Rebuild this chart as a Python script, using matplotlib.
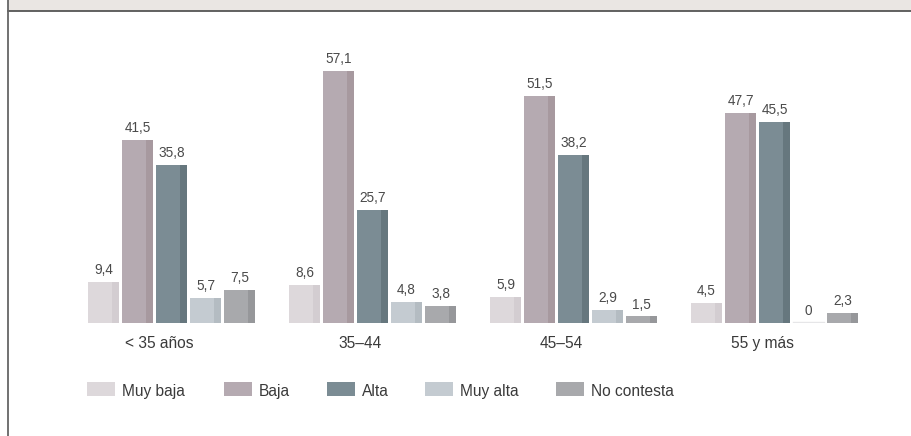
import matplotlib
matplotlib.use("Agg")
import matplotlib.pyplot as plt
from matplotlib.patches import Rectangle
from matplotlib.lines import Line2D

plt.rcParams['font.family'] = ['Liberation Sans', 'DejaVu Sans']

# data
groups = ["< 35 años", "35\u201344", "45\u201354", "55 y más"]
series = ["Muy baja", "Baja", "Alta", "Muy alta", "No contesta"]
muy_baja = [9.4, 8.6, 5.9, 4.5]
baja = [41.5, 57.1, 51.5, 47.7]
alta = [35.8, 25.7, 38.2, 45.5]
muy_alta = [5.7, 4.8, 2.9, 0]
no_contesta = [7.5, 3.8, 1.5, 2.3]
values = [muy_baja, baja, alta, muy_alta, no_contesta]

main_colors = ["#DDD8DB", "#B5AAB1", "#7B8C94", "#C4CBD1", "#A8A9AC"]
strip_colors = ["#D3CDD1", "#A7999F", "#66777E", "#B4BCC2", "#96979A"]

W, H = 911, 436
fig = plt.figure(figsize=(W / 100, H / 100), dpi=100)

def fx(px):
    return px / W

def fy(py):
    return 1 - py / H

# frame: grey band on top, dark rule, left border
fig.add_artist(Rectangle((fx(8), fy(11)), 1 - fx(8), fy(0) - fy(11),
                         transform=fig.transFigure, color="#EAE6E3", lw=0))
fig.add_artist(Line2D([fx(8), 1], [fy(11.5), fy(11.5)], transform=fig.transFigure,
                      color="#555555", lw=1.3))
fig.add_artist(Line2D([fx(8), fx(8)], [0, 1], transform=fig.transFigure,
                      color="#666666", lw=1.3))

# axes geometry (px)
ppu_x = 201.0          # pixels per group
bar_w = 31 / ppu_x
pitch = 34 / ppu_x
base_px = 323
ppu_y = 4.41
ymax = 60
ax_left, ax_right = 20, 900
first_left = -2 * pitch - bar_w / 2
xmin = first_left - (88 - ax_left) / ppu_x
xmax = xmin + (ax_right - ax_left) / ppu_x

ax = fig.add_axes([fx(ax_left), fy(base_px), fx(ax_right - ax_left), ymax * ppu_y / H])
ax.set_xlim(xmin, xmax)
ax.set_ylim(0, ymax)

strip = 0.23 * bar_w
for i, vals in enumerate(values):
    xs = [g + (i - 2) * pitch for g in range(len(groups))]
    ax.bar(xs, vals, width=bar_w, color=main_colors[i], lw=0)
    ax.bar([x + bar_w / 2 - strip / 2 for x in xs], vals, width=strip,
           color=strip_colors[i], lw=0)
    for x, v in zip(xs, vals):
        if v == 0:
            ax.plot([x - bar_w / 2, x + bar_w / 2], [0.15, 0.15], color="#E6E6E8", lw=1)
        lab = f"{v:.1f}".replace(".", ",") if v != 0 else "0"
        ax.annotate(lab, (x, v), xytext=(0, 3.5), textcoords="offset points",
                    ha="center", va="bottom", fontsize=9.8, color="#4a4a4a")

ax.set_xticks([g - 0.06 for g in range(len(groups))])
ax.set_xticklabels(groups, fontsize=11.2, color="#3a3a3a")
ax.tick_params(axis="x", length=0, pad=9)
ax.set_yticks([])
for s in ax.spines.values():
    s.set_visible(False)
ax.patch.set_alpha(0)

# legend drawn by hand
leg_x = [87, 224, 327, 425, 556]
for i, name in enumerate(series):
    fig.add_artist(Rectangle((fx(leg_x[i]), fy(396)), 28 / W, 14 / H,
                             transform=fig.transFigure, color=main_colors[i], lw=0))
    fig.text(fx(leg_x[i] + 35), fy(391), name, fontsize=11.2, color="#3a3a3a",
             ha="left", va="center")

fig.savefig("out.png", dpi=100)
